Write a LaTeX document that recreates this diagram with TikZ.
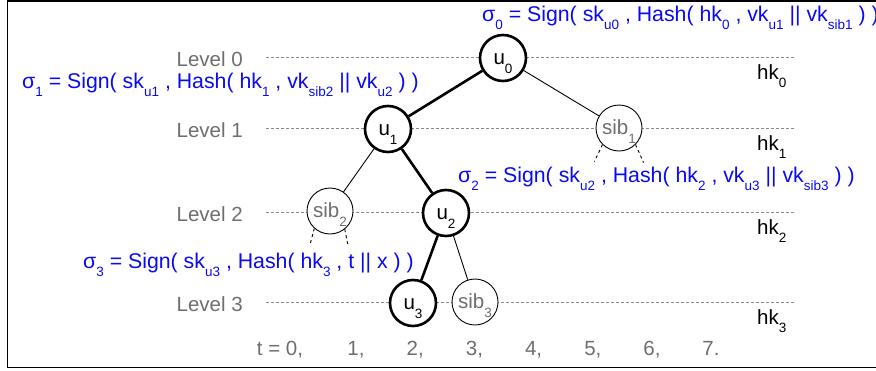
\documentclass[tikz,border=0pt]{standalone}
\usepackage{fontspec}
\setmainfont{Liberation Sans}
\definecolor{sigblue}{RGB}{10,10,240}
\definecolor{lvlgray}{RGB}{110,110,110}
\newcommand\sbs[1]{\raisebox{-8.5pt}{\fontsize{13.5}{13.5}\selectfont #1}}

\begin{document}
\begin{tikzpicture}[x=1pt, y=-1pt,
    every node/.style={font=\fontsize{20.5}{24}\selectfont},
    unode/.style={circle, draw, line width=2.6pt, fill=white, minimum size=46pt, inner sep=0pt, text height=15pt, text depth=2pt},
    sibnode/.style={unode, line width=0.9pt, text=lvlgray},
    lvl/.style={text=lvlgray, anchor=base east, inner sep=0pt},
    hk/.style={anchor=base west, inner sep=0pt},
    sig/.style={text=sigblue, anchor=base west, inner sep=0pt, font=\fontsize{21.3}{25}\selectfont},
    levelline/.style={draw=lvlgray!80, line width=0.7pt, dash pattern=on 3pt off 2pt},
    strong/.style={line width=2.6pt},
    weak/.style={line width=0.9pt}]
    \useasboundingbox (0,0) rectangle (876,370);
    \draw[line width=1.5pt] (900,0.8) -- (7.5,0.8) -- (7.5,367.5) -- (900,367.5);

    \foreach \i/\y in {0/57,1/128,2/212,3/302}{
        \coordinate (la\i) at (266,\y);
        \coordinate (lb\i) at (794,\y);
        \draw[levelline] (la\i) -- (lb\i);
        \node[lvl] (lv\i) at (243,\y+9) {Level \i};
        \node[hk] (hk\i) at (757,\y+22) {hk\sbs{\i}};
    }

    \node[unode] (u0) at (503,58) {u\sbs{0}};
    \node[unode] (u1) at (388,129) {u\sbs{1}};
    \node[sibnode] (sib1) at (619,128) {sib\sbs{1}};
    \node[sibnode] (sib2) at (330,211) {sib\sbs{2}};
    \node[unode] (u2) at (446,213) {u\sbs{2}};
    \node[unode] (u3) at (413,303) {u\sbs{3}};
    \node[sibnode] (sib3) at (475,302) {sib\sbs{3}};

    \draw[strong] (u0) -- (u1);
    \draw[weak] (u0) -- (sib1);
    \draw[weak] (u1) -- (sib2);
    \draw[strong] (u1) -- (u2);
    \draw[strong] (u2) -- (u3);
    \draw[weak] (u2) -- (sib3);
    \draw[weak, dashed] (sib1.-135) -- +(-8,17);
    \draw[weak, dashed] (sib1.-45) -- +(8,18);
    \draw[weak, dashed] (sib2.-132) -- +(-4,15);
    \draw[weak, dashed] (sib2.-51) -- +(3,15);

    \node[sig] (sig0) at (482,21) {σ\sbs{0} = Sign( sk\sbs{u0} , Hash( hk\sbs{0} , vk\sbs{u1} || vk\sbs{sib1} ) )};
    \node[sig] (sig1) at (22,88) {σ\sbs{1} = Sign( sk\sbs{u1} , Hash( hk\sbs{1} , vk\sbs{sib2} || vk\sbs{u2} ) )};
    \node[sig] (sig2) at (458,182) {σ\sbs{2} = Sign( sk\sbs{u2} , Hash( hk\sbs{2} , vk\sbs{u3} || vk\sbs{sib3} ) )};
    \node[sig] (sig3) at (83,268) {σ\sbs{3} = Sign( sk\sbs{u3} , Hash( hk\sbs{3} , t || x ) )};

    \node[lvl, anchor=base] (t0) at (280,355) {t = 0,};
    \foreach \t in {1,...,6}{
        \node[lvl, anchor=base] (t\t) at (356+59.2*\t-59.2,355) {\t,};
    }
    \node[lvl, anchor=base] (t7) at (711,355) {7.};
\end{tikzpicture}
\end{document}
